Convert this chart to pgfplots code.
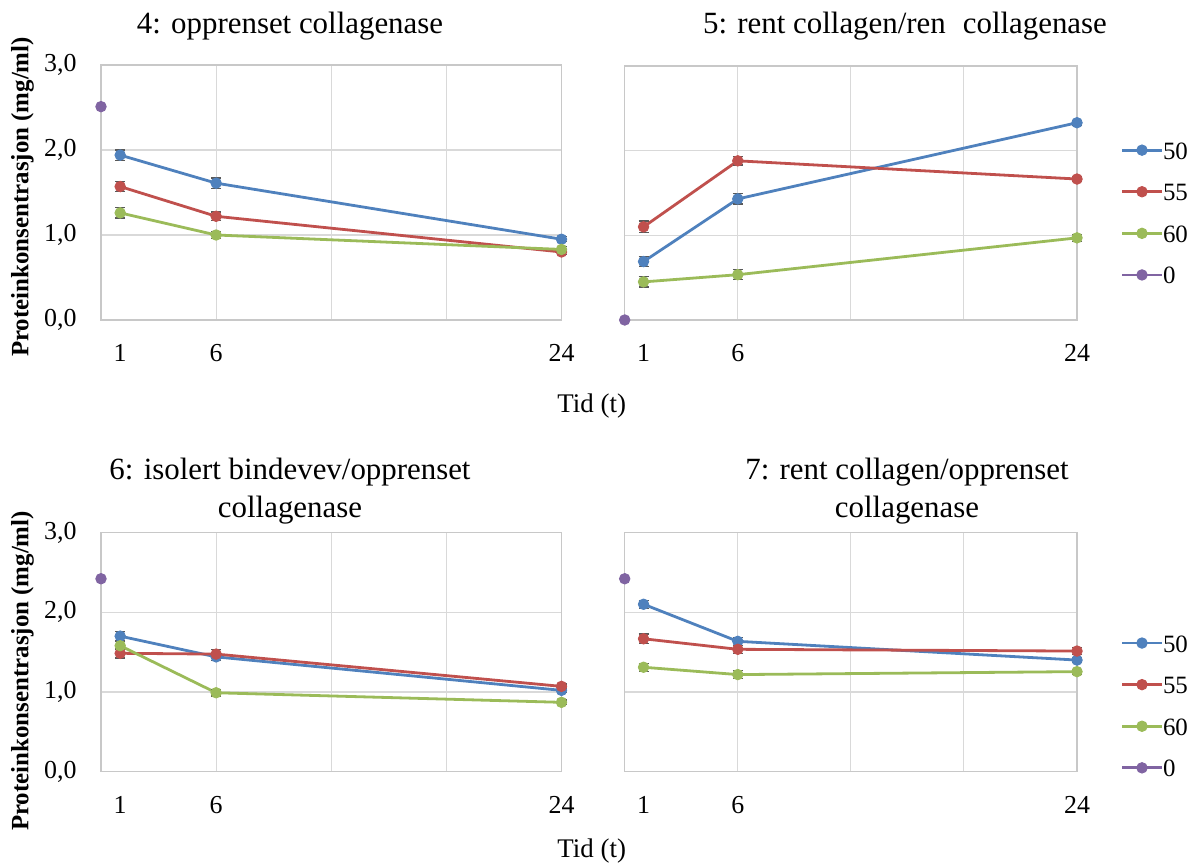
\documentclass[border=0pt]{standalone}
\usepackage{fontspec}
\setmainfont{Liberation Serif}
\usepackage{pgfplots}
\pgfplotsset{compat=1.18}
\definecolor{c50}{HTML}{4F81BD}
\definecolor{c55}{HTML}{C0504D}
\definecolor{c60}{HTML}{9BBB59}
\definecolor{c0}{HTML}{8064A2}
\definecolor{gridc}{HTML}{D9D9D9}
\definecolor{axc}{HTML}{C8C8C8}

\pgfplotsset{
  panel/.style={
    scale only axis, anchor=south west,
    xmin=0, xmax=24, ymin=0, ymax=3,
    xtick={1,6,24}, minor xtick={6,12,18},
    ytick={0,1,2,3},
    major tick length=0pt, minor tick length=0pt,
    xminorgrids=true, xmajorgrids=false, ymajorgrids=true,
    grid style={draw=gridc, line width=0.55bp},
    minor grid style={draw=gridc, line width=0.55bp},
    axis line style={draw=axc, line width=0.6bp},
    clip=false,
    /pgf/number format/assume math mode=true,
    xticklabel style={font=\fontsize{13}{15}\selectfont, anchor=center, inner sep=0pt, yshift=-16.5bp},
    yticklabel style={font=\fontsize{13}{15}\selectfont, anchor=east, inner sep=0pt, xshift=-12bp},
    legend image code/.code={
      \draw[#1, line width=1.4bp] (0bp,0bp) -- (19.6bp,0bp);
      \draw[#1, only marks] plot coordinates {(9.8bp,0bp)};
    },
  },
  ser/.style={color=#1, line width=1.4bp, mark=*, mark size=2.6bp, mark options={solid, fill=#1, draw=#1, line width=0.5bp},
    /pgfplots/error bars/y dir=both, /pgfplots/error bars/y explicit,
    /pgfplots/error bars/error bar style={draw=black!65, line width=0.6bp},
    /pgfplots/error bars/error mark options={rotate=90, draw=black!65, mark size=2.5bp, line width=0.6bp}},
  zer/.style={color=c0, line width=1.4bp, mark=*, mark size=2.6bp, mark options={solid, fill=c0, draw=c0, line width=0.5bp}},
  leg/.style={legend style={at={(axis description cs:1,#1)}, anchor=west, xshift=21.8bp, draw=none, fill=none,
      inner sep=0pt, row sep=11.8bp, font=\fontsize{12.5}{14}\selectfont,
      nodes={inner sep=0pt, text height=9bp, text depth=0bp},
      /tikz/every even column/.append style={column sep=2.5bp}},
      legend cell align=left},
}

\newcommand{\tfont}{\fontsize{15.5}{19}\selectfont}

\begin{document}
\begin{tikzpicture}
\useasboundingbox (0,0) rectangle (599.5bp,431.5bp);

% Panel 4
\begin{axis}[panel, at={(50.5bp,271.5bp)}, width=230.25bp, height=127.5bp,
  yticklabels={{0,0},{1,0},{2,0},{3,0}}]
\addplot[ser=c50] table[x=x, y=y, y error=e] {
x y e
1 1.94 0.06
6 1.61 0.06
24 0.95 0.03
};
\addplot[ser=c55] table[x=x, y=y, y error=e] {
x y e
1 1.57 0.06
6 1.22 0.05
24 0.80 0.03
};
\addplot[ser=c60] table[x=x, y=y, y error=e] {
x y e
1 1.26 0.06
6 1.00 0.04
24 0.83 0.03
};
\addplot[zer] coordinates {(0,2.51)};
\end{axis}

% Panel 5
\begin{axis}[panel, at={(312.35bp,271.5bp)}, width=226.15bp, height=127bp,
  yticklabels={}, leg=0.423]
\addplot[ser=c50] table[x=x, y=y, y error=e] {
x y e
1 0.69 0.06
6 1.43 0.06
24 2.33 0.03
};
\addplot[ser=c55] table[x=x, y=y, y error=e] {
x y e
1 1.10 0.07
6 1.88 0.05
24 1.665 0.03
};
\addplot[ser=c60] table[x=x, y=y, y error=e] {
x y e
1 0.45 0.06
6 0.535 0.06
24 0.97 0.04
};
\addplot[zer] coordinates {(0,0.0)};
\legend{50,55,60,0}
\end{axis}

% Panel 6
\begin{axis}[panel, at={(50.5bp,45.65bp)}, width=230.25bp, height=119.6bp,
  yticklabels={{0,0},{1,0},{2,0},{3,0}}]
\addplot[ser=c50] table[x=x, y=y, y error=e] {
x y e
1 1.70 0.06
6 1.44 0.05
24 1.02 0.03
};
\addplot[ser=c55] table[x=x, y=y, y error=e] {
x y e
1 1.485 0.06
6 1.475 0.06
24 1.07 0.03
};
\addplot[ser=c60] table[x=x, y=y, y error=e] {
x y e
1 1.58 0.05
6 0.99 0.04
24 0.87 0.03
};
\addplot[zer] coordinates {(0,2.42)};
\end{axis}

% Panel 7
\begin{axis}[panel, at={(312.35bp,45.65bp)}, width=226.15bp, height=119.6bp,
  yticklabels={}, leg=0.277]
\addplot[ser=c50] table[x=x, y=y, y error=e] {
x y e
1 2.10 0.05
6 1.635 0.05
24 1.40 0.03
};
\addplot[ser=c55] table[x=x, y=y, y error=e] {
x y e
1 1.667 0.06
6 1.535 0.05
24 1.513 0.04
};
\addplot[ser=c60] table[x=x, y=y, y error=e] {
x y e
1 1.31 0.05
6 1.218 0.05
24 1.255 0.03
};
\addplot[zer] coordinates {(0,2.42)};
\legend{50,55,60,0}
\end{axis}

% titles
\node[anchor=base, inner sep=0pt, font=\tfont] at (145bp,414.85bp) {4: opprenset collagenase};
\node[anchor=base, inner sep=0pt, font=\tfont] at (452.5bp,414.85bp) {5: rent collagen/ren\hspace{0.3em} collagenase};
\node[anchor=base, inner sep=0pt, font=\tfont] at (145bp,191.85bp) {6: isolert bindevev/opprenset};
\node[anchor=base, inner sep=0pt, font=\tfont] at (145bp,172.85bp) {collagenase};
\node[anchor=base, inner sep=0pt, font=\tfont] at (453.5bp,191.5bp) {7: rent collagen/opprenset};
\node[anchor=base, inner sep=0pt, font=\tfont] at (453.5bp,172.85bp) {collagenase};

% y labels
\node[rotate=90, inner sep=0pt, font=\fontsize{12.5}{14}\selectfont\bfseries] at (11.2bp,333bp) {Proteinkonsentrasjon (mg/ml)};
\node[rotate=90, inner sep=0pt, font=\fontsize{12.5}{14}\selectfont\bfseries] at (11.2bp,96bp) {Proteinkonsentrasjon (mg/ml)};

% x labels
\node[anchor=base, inner sep=0pt, font=\fontsize{13.5}{15}\selectfont] at (295.85bp,225bp) {Tid (t)};
\node[anchor=base, inner sep=0pt, font=\fontsize{13.5}{15}\selectfont] at (295.85bp,3bp) {Tid (t)};
\end{tikzpicture}
\end{document}
